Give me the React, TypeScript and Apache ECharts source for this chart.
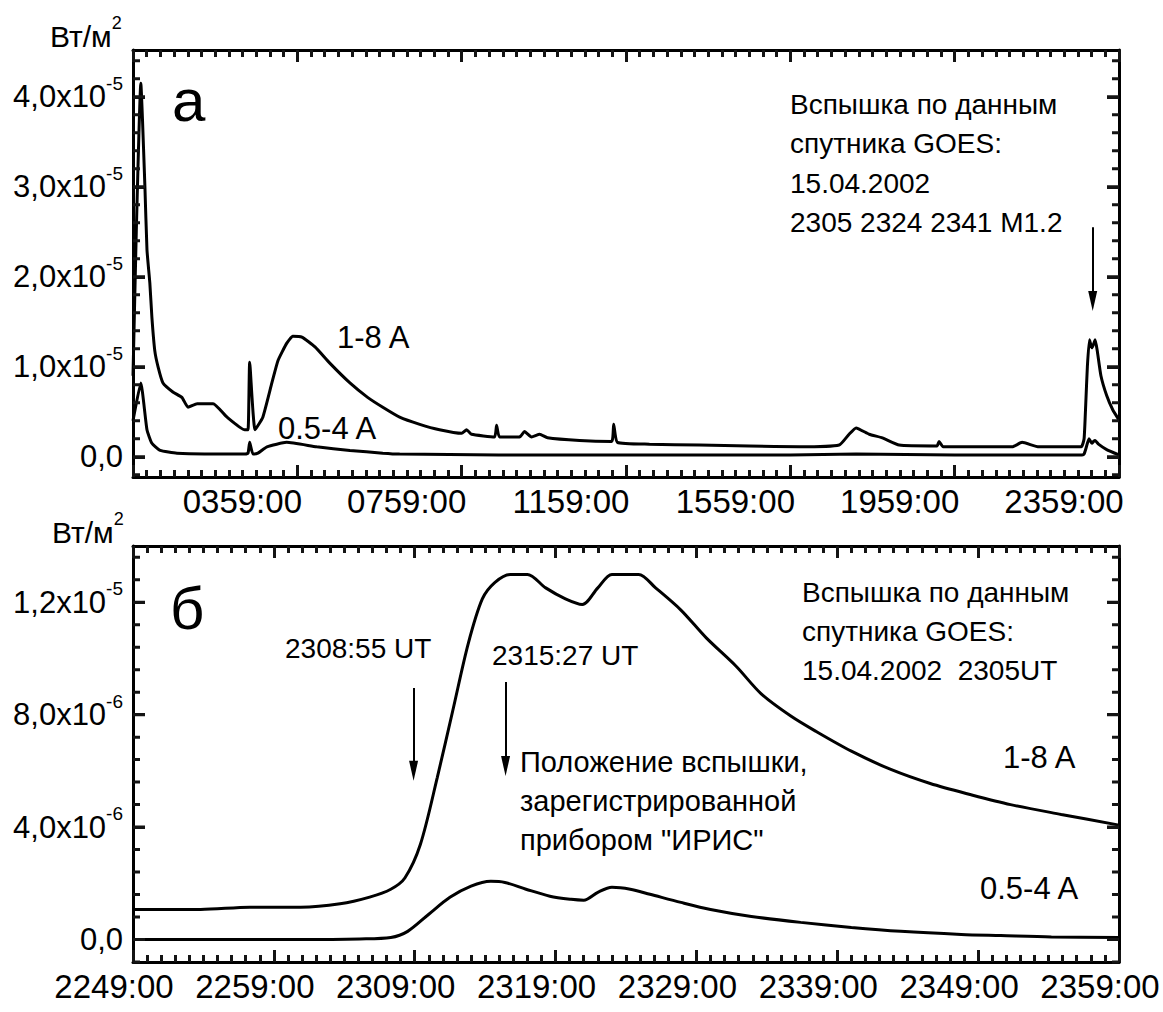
import React, { useEffect, useRef } from "react";
import * as echarts from "echarts";

const FONT = "Liberation Sans, Arial, Helvetica, sans-serif";
const TICK_COLOR = "#141414";

// ---------- Panel "а": 15.04.2002, hours since 23:59 UT (14.04); flux in 1e-5 W/m^2
const dayHours18 = [0, 0.08, 0.19, 0.29, 0.34, 0.41, 0.46, 0.53, 0.61, 0.73, 0.97, 1.19, 1.34, 1.56, 1.95, 2.29, 2.72, 2.8, 2.84, 2.97, 3.16, 3.38, 3.53, 3.74, 3.89, 4.11, 4.43, 4.79, 5.28, 5.71, 6.08, 6.49, 6.98, 7.46, 8.0, 8.12, 8.24, 8.8, 8.85, 8.92, 9.41, 9.53, 9.7, 9.9, 10.09, 10.87, 11.65, 11.7, 11.79, 12.57, 13.79, 15.0, 16.22, 17.19, 17.43, 17.6, 17.92, 18.24, 18.65, 19.57, 19.62, 19.72, 21.4, 21.64, 22.05, 23.08, 23.15, 23.19, 23.23, 23.28, 23.34, 23.38, 23.42, 23.47, 23.56, 23.7, 23.85, 24.0];
const dayFlux18 = [0.9, 2.5, 4.15, 3.0, 2.3, 1.93, 1.55, 1.18, 1.0, 0.82, 0.72, 0.66, 0.55, 0.59, 0.59, 0.44, 0.3, 0.3, 1.05, 0.3, 0.44, 0.82, 1.07, 1.26, 1.34, 1.33, 1.22, 1.04, 0.82, 0.66, 0.55, 0.44, 0.36, 0.3, 0.26, 0.3, 0.25, 0.22, 0.35, 0.22, 0.22, 0.28, 0.22, 0.25, 0.21, 0.18, 0.17, 0.36, 0.16, 0.14, 0.13, 0.12, 0.11, 0.13, 0.25, 0.32, 0.25, 0.21, 0.13, 0.12, 0.17, 0.11, 0.11, 0.16, 0.11, 0.11, 0.2, 0.58, 1.0, 1.3, 1.21, 1.25, 1.3, 1.18, 0.9, 0.68, 0.52, 0.41];
const dayHours054 = [0, 0.19, 0.34, 0.46, 0.66, 1.07, 2.72, 2.8, 2.84, 2.92, 3.04, 3.26, 3.74, 4.47, 5.28, 6.08, 6.49, 8.9, 12.0, 16.0, 17.6, 20.0, 23.1, 23.15, 23.2, 23.27, 23.34, 23.38, 23.42, 23.5, 23.7, 24.0];
const dayFlux054 = [0.4, 0.82, 0.3, 0.15, 0.07, 0.04, 0.03, 0.04, 0.16, 0.03, 0.04, 0.11, 0.16, 0.11, 0.07, 0.04, 0.03, 0.02, 0.02, 0.02, 0.03, 0.02, 0.02, 0.03, 0.1, 0.2, 0.15, 0.17, 0.18, 0.14, 0.08, 0.02];

// ---------- Panel "б": minutes since 22:49 UT; flux in 1e-6 W/m^2
const flareMin18 = [0, 4.8, 8.3, 11.9, 14.7, 16.8, 18.3, 19.3, 20.4, 21.6, 22.7, 23.8, 24.8, 25.7, 26.8, 28.0, 29.3, 30.7, 31.9, 33.0, 34.0, 35.9, 37.1, 38.9, 40.7, 42.8, 44.6, 46.7, 48.5, 51.0, 53.8, 56.6, 59.5, 62.3, 65.9, 70.0];
const flareFlux18 = [1.07, 1.07, 1.15, 1.15, 1.27, 1.51, 1.79, 2.19, 3.38, 5.76, 8.14, 10.53, 12.12, 12.71, 12.99, 12.99, 12.51, 12.12, 11.92, 12.51, 12.99, 12.99, 12.51, 11.72, 10.73, 9.73, 8.74, 7.95, 7.4, 6.7, 6.05, 5.55, 5.15, 4.8, 4.45, 4.07];
const flareMin054 = [0, 11.9, 16.1, 18.3, 19.5, 21.0, 22.5, 24.0, 25.4, 26.4, 27.9, 29.6, 31.1, 32.0, 33.0, 34.0, 35.3, 36.7, 38.9, 41.0, 43.9, 47.4, 51.0, 54.5, 58.8, 61.6, 65.2, 70];
const flareFlux054 = [0, 0, 0.02, 0.07, 0.29, 0.9, 1.5, 1.9, 2.07, 2.03, 1.79, 1.54, 1.43, 1.4, 1.68, 1.86, 1.79, 1.61, 1.32, 1.07, 0.82, 0.61, 0.43, 0.29, 0.18, 0.14, 0.09, 0.07];

// ---------- Axes
const dayXRange = [0, 24];
const dayXStep = 4;
const dayXMinorSplit = 12;
const dayYRange = [-0.225, 4.52];
const dayXLabelTicks = [4, 8, 12, 16, 20, 24];
const dayXLabels = ["0359:00", "0759:00", "1159:00", "1559:00", "1959:00", "2359:00"];
const dayYMajor = [0, 1, 2, 3, 4];
const dayYMinorStep = 0.2;
const dayYMant = ["0,0", "1,0x10", "2,0x10", "3,0x10", "4,0x10"];
const dayYExp = ["", "-5", "-5", "-5", "-5"];

const flareXRange = [0, 70];
const flareXStep = 10;
const flareXMinorSplit = 10;
const flareYRange = [-0.8, 14.0];
const flareXLabelTicks = [0, 10, 20, 30, 40, 50, 60, 70];
const flareXLabels = ["2249:00", "2259:00", "2309:00", "2319:00", "2329:00", "2339:00", "2349:00", "2359:00"];
const flareYMajor = [0, 4, 8, 12];
const flareYMinorStep = 0.8;
const flareYMant = ["0,0", "4,0x10", "8,0x10", "1,2x10"];
const flareYExp = ["", "-6", "-6", "-5"];

// Annotation arrows (data coordinates)
const dayArrow = { t: 23.36, from: 2.55, to: 1.73 };
const flareArrows = [
  { t: 19.92, from: 8.95, to: 6.0 },
  { t: 26.45, from: 9.16, to: 6.17 },
];

// layout (px)
const DAY_BOX = { top: 0, height: 530, grid: { left: 133, top: 50, width: 986, height: 427 } };
const FLARE_BOX = { top: 500, height: 512, grid: { left: 133, top: 46, width: 986, height: 416 } };
const MAJOR_LEN = 12;
const MINOR_LEN = 7;

function minorTicks(min: number, max: number, step: number, majors: number[]) {
  const out: number[] = [];
  const start = Math.ceil((min - majors[0]) / step - 1e-9);
  for (let k = start; k < start + 1000; k++) {
    const v = Math.round((majors[0] + k * step) * 10000) / 10000;
    if (v > max + 1e-9) break;
    if (v < min - 1e-9) continue;
    if (majors.some((m) => Math.abs(m - v) < 1e-6)) continue;
    out.push(v);
  }
  return out;
}

const idxOf = (arr: number[], v: number) => arr.findIndex((a) => Math.abs(a - v) < 1e-6);

const RICH = {
  m: { fontSize: 31, fontFamily: FONT, color: "#000", lineHeight: 46 },
  s: { fontSize: 19, fontFamily: FONT, color: "#000", lineHeight: 18, verticalAlign: "top" },
};

function xAxisDef(position: string, range: number[], step: number, split: number, label: any) {
  return {
    type: "value",
    position,
    min: range[0],
    max: range[1],
    interval: step,
    axisLine: { show: true, onZero: false, lineStyle: { color: "#000", width: 3 } },
    axisTick: { show: true, inside: true, length: MAJOR_LEN, lineStyle: { color: TICK_COLOR, width: 3 } },
    minorTick: { show: true, splitNumber: split, length: MINOR_LEN, lineStyle: { color: TICK_COLOR, width: 3 } },
    splitLine: { show: false },
    axisLabel: label,
  };
}

function yAxisDef(position: string, range: number[], majors: number[], label: any) {
  return {
    type: "value",
    position,
    min: range[0],
    max: range[1],
    axisLine: { show: true, onZero: false, lineStyle: { color: "#000", width: 3 } },
    axisTick: { show: true, inside: true, length: MAJOR_LEN, customValues: majors, lineStyle: { color: TICK_COLOR, width: 3 } },
    splitLine: { show: false },
    axisLabel: label,
  };
}

const yLabel = (vals: number[], mant: string[], exp: string[]) => ({
  show: true,
  customValues: vals,
  margin: 10,
  rich: RICH,
  formatter: (v: number) => {
    const i = idxOf(vals, v);
    return i < 0 ? "" : `{m|${mant[i]}}` + (exp[i] ? `{s|${exp[i]}}` : "");
  },
});
const blankLabel = (vals?: number[]) => ({
  show: true,
  ...(vals ? { customValues: vals } : {}),
  formatter: () => "",
});

// y tick marks (major + minor, both sides) as one broken line series in data coordinates
function yTickSeries(grid: { width: number }, xRange: number[], majors: number[], minors: number[]) {
  const dx = (xRange[1] - xRange[0]) / grid.width;
  const pts: any[] = [];
  const add = (v: number, len: number) => {
    pts.push([xRange[0], v], [xRange[0] + len * dx, v], ["-", "-"]);
    pts.push([xRange[1], v], [xRange[1] - len * dx, v], ["-", "-"]);
  };
  majors.forEach((v) => add(v, MAJOR_LEN));
  minors.forEach((v) => add(v, MINOR_LEN));
  return {
    type: "line",
    data: pts,
    symbol: "none",
    connectNulls: false,
    clip: false,
    lineStyle: { color: TICK_COLOR, width: 3 },
  };
}

const zip = (xs: number[], ys: number[]) => xs.map((x, i) => [x, ys[i]]);

const curve = (data: number[][], smooth: number, extra: any = {}) => ({
  type: "line",
  data,
  symbol: "none",
  smooth,
  lineStyle: { color: "#000", width: 3 },
  ...extra,
});

const arrowMark = (arrows: { t: number; from: number; to: number }[]) => ({
  silent: true,
  symbol: ["none", "triangle"],
  symbolSize: [9, 20],
  label: { show: false },
  lineStyle: { color: "#000", width: 2, type: "solid" },
  itemStyle: { color: "#000" },
  data: arrows.map((a) => [{ coord: [a.t, a.from] }, { coord: [a.t, a.to] }]),
});

const txt = (x: number, y: number, text: string, fontSize: number) => ({
  type: "text",
  x,
  y,
  style: { text, fontSize, fontFamily: FONT, fill: "#000", align: "left", verticalAlign: "middle" },
});
const unitTxt = (x: number, y: number) => ({
  type: "text",
  x,
  y,
  style: {
    text: "{m|Вт/м}{s|2}",
    align: "left",
    verticalAlign: "middle",
    fill: "#000",
    rich: {
      m: { fontSize: 30, fontFamily: FONT, fill: "#000", lineHeight: 44 },
      s: { fontSize: 18, fontFamily: FONT, fill: "#000", lineHeight: 18, verticalAlign: "top" },
    },
  },
});

const xLabelBase = { show: true, fontSize: 33, fontFamily: FONT, color: "#000", margin: 8 };

function dayOption() {
  const yMinor = minorTicks(dayYRange[0], dayYRange[1], dayYMinorStep, dayYMajor);
  return {
    animation: false,
    grid: [{ ...DAY_BOX.grid, outerBoundsMode: "none" }],
    xAxis: [
      xAxisDef("bottom", dayXRange, dayXStep, dayXMinorSplit, {
        ...xLabelBase,
        padding: [0, 110, 0, 0],
        formatter: (v: number) => {
          const i = idxOf(dayXLabelTicks, v);
          return i < 0 ? "" : dayXLabels[i];
        },
      }),
      xAxisDef("top", dayXRange, dayXStep, dayXMinorSplit, blankLabel()),
    ],
    yAxis: [
      yAxisDef("left", dayYRange, dayYMajor, yLabel(dayYMajor, dayYMant, dayYExp)),
      yAxisDef("right", dayYRange, dayYMajor, blankLabel(dayYMajor)),
    ],
    series: [
      curve(zip(dayHours18, dayFlux18), 0.15, { markLine: arrowMark([dayArrow]) }),
      curve(zip(dayHours054, dayFlux054), 0.15),
      yTickSeries(DAY_BOX.grid, dayXRange, dayYMajor, yMinor),
    ],
    graphic: [
      unitTxt(50, 36),
      txt(172, 100, "а", 60),
      txt(790, 104, "Вспышка по данным", 28),
      txt(790, 143, "спутника GOES:", 28),
      txt(790, 183, "15.04.2002", 28),
      txt(790, 222, "2305 2324 2341 M1.2", 28),
      txt(337, 337, "1-8 A", 31),
      txt(278, 428, "0.5-4 A", 31),
    ],
  };
}

function flareOption() {
  const yMinor = minorTicks(flareYRange[0], flareYRange[1], flareYMinorStep, flareYMajor);
  const o = FLARE_BOX.top;
  return {
    animation: false,
    grid: [{ ...FLARE_BOX.grid, outerBoundsMode: "none" }],
    xAxis: [
      xAxisDef("bottom", flareXRange, flareXStep, flareXMinorSplit, {
        ...xLabelBase,
        padding: [0, 38, 0, 0],
        formatter: (v: number) => {
          const i = idxOf(flareXLabelTicks, v);
          return i < 0 ? "" : flareXLabels[i];
        },
      }),
      xAxisDef("top", flareXRange, flareXStep, flareXMinorSplit, blankLabel()),
    ],
    yAxis: [
      yAxisDef("left", flareYRange, flareYMajor, yLabel(flareYMajor, flareYMant, flareYExp)),
      yAxisDef("right", flareYRange, flareYMajor, blankLabel(flareYMajor)),
    ],
    series: [
      curve(zip(flareMin18, flareFlux18), 0.3, { markLine: arrowMark(flareArrows) }),
      curve(zip(flareMin054, flareFlux054), 0.3),
      yTickSeries(FLARE_BOX.grid, flareXRange, flareYMajor, yMinor),
    ],
    graphic: [
      unitTxt(52, 532 - o),
      txt(170, 608 - o, "б", 60),
      txt(802, 592 - o, "Вспышка по данным", 28),
      txt(802, 631 - o, "спутника GOES:", 28),
      txt(802, 670 - o, "15.04.2002  2305UT", 28),
      txt(285, 648 - o, "2308:55 UT", 28),
      txt(492, 655 - o, "2315:27 UT", 28),
      txt(520, 762 - o, "Положение вспышки,", 29),
      txt(520, 801 - o, "зарегистрированной", 29),
      txt(520, 840 - o, "прибором \"ИРИС\"", 29),
      txt(1003, 757 - o, "1-8 A", 31),
      txt(980, 888 - o, "0.5-4 A", 31),
    ],
  };
}

export default function App() {
  const dayRef = useRef<HTMLDivElement>(null);
  const flareRef = useRef<HTMLDivElement>(null);
  useEffect(() => {
    if (!dayRef.current || !flareRef.current) return;
    const c1 = echarts.init(dayRef.current, null, { renderer: "svg" });
    const c2 = echarts.init(flareRef.current, null, { renderer: "svg" });
    c1.setOption(dayOption() as any);
    c2.setOption(flareOption() as any);
    return () => {
      c1.dispose();
      c2.dispose();
    };
  }, []);
  return (
    <div style={{ position: "fixed", left: 0, top: 0, width: 1163, height: 1012, background: "#fff" }}>
      <div
        ref={dayRef}
        style={{ position: "absolute", left: 0, top: DAY_BOX.top, width: 1163, height: DAY_BOX.height }}
      />
      <div
        ref={flareRef}
        style={{ position: "absolute", left: 0, top: FLARE_BOX.top, width: 1163, height: FLARE_BOX.height }}
      />
    </div>
  );
}
